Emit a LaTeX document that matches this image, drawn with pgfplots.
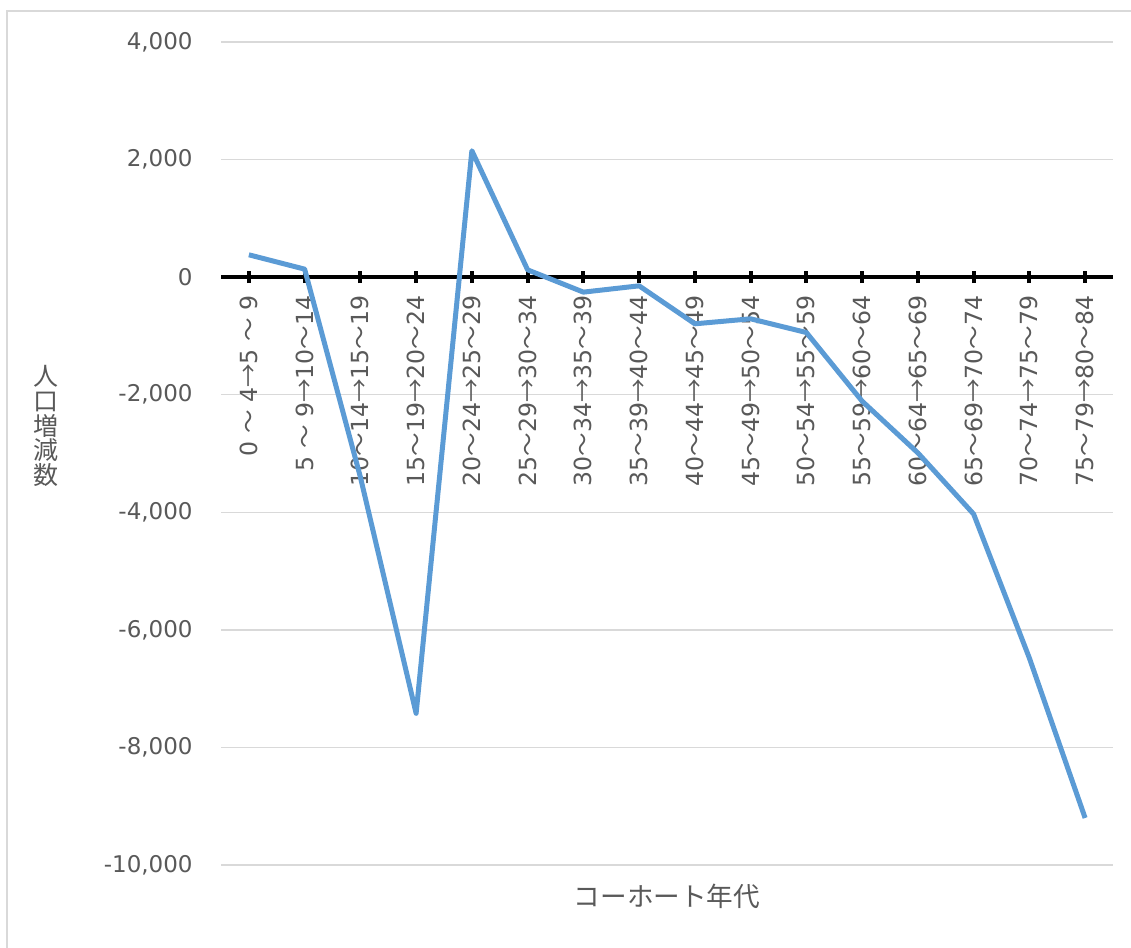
\documentclass[border=0pt]{standalone}
\usepackage{pgfplots}
\pgfplotsset{compat=1.18}
\usepackage{fontspec}
\setmainfont{DejaVu Sans}
\newfontfamily\cjk{Noto Sans CJK JP}
\definecolor{txt}{HTML}{595959}
\definecolor{grd}{HTML}{D9D9D9}
\definecolor{ln}{HTML}{5B9BD5}
\newcommand{\T}{{\cjk ～}}
\newcommand{\A}{{\cjk →}}
\pgfplotstableread{
x y
0 380
1 136
2 -3400
3 -7420
4 2150
5 124
6 -255
7 -148
8 -794
9 -709
10 -942
11 -2110
12 -2990
13 -4030
14 -6480
15 -9200
}\datatable
\begin{document}
\begin{tikzpicture}
\path[use as bounding box] (0,0) rectangle (565.5pt,474pt);
\draw[grd, line width=1pt] (3.5pt,0) -- (3.5pt,468.5pt) -- (565.5pt,468.5pt);
\begin{axis}[
  at={(110.5pt,41.5pt)}, anchor=south west,
  scale only axis, width=446pt, height=411.5pt,
  xmin=-0.5, xmax=15.5, ymin=-10000, ymax=4000,
  axis x line*=middle, axis y line*=left,
  y axis line style={draw=none},
  x axis line style={black, line width=2.25pt},
  xtick={0,...,15},
  xticklabels={0 \T{} 4\A5 \T{} 9, 5 \T{} 9\A10\T14, 10\T14\A15\T19, 15\T19\A20\T24, 20\T24\A25\T29, 25\T29\A30\T34, 30\T34\A35\T39, 35\T39\A40\T44, 40\T44\A45\T49, 45\T49\A50\T54, 50\T54\A55\T59, 55\T59\A60\T64, 60\T64\A65\T69, 65\T69\A70\T74, 70\T74\A75\T79, 75\T79\A80\T84},
  xtick style={black, line width=2pt},
  xtick align=center, major tick length=6pt,
  ytick={-10000,-8000,...,4000},
  ytick style={draw=none},
  ymajorgrids=true,
  grid style={grd, line width=0.75pt},
  /pgf/number format/assume math mode=true,
  /pgf/number format/1000 sep={,},
  scaled y ticks=false,
  ticklabel style={font=\fontsize{11.5}{13}\selectfont, text=txt},
  xticklabel style={font=\fontsize{11.8}{13}\selectfont, rotate=90, anchor=east, inner sep=0pt, xshift=-6pt},
  yticklabel style={anchor=east, inner sep=0pt, xshift=-14pt},
  clip=false,
]
\addplot[ln, line width=2.5pt, line join=round] table[x=x,y=y] {\datatable};
\end{axis}
\node[text=txt, font=\cjk\fontsize{12.5}{12.4}\selectfont, align=center, inner sep=0pt] at (23pt,261pt) {人\\口\\増\\減\\数};
\node[text=txt, font=\cjk\fontsize{13.3}{14}\selectfont, inner sep=0pt] at (333.5pt,26pt) {コーホート年代};
\end{tikzpicture}
\end{document}
